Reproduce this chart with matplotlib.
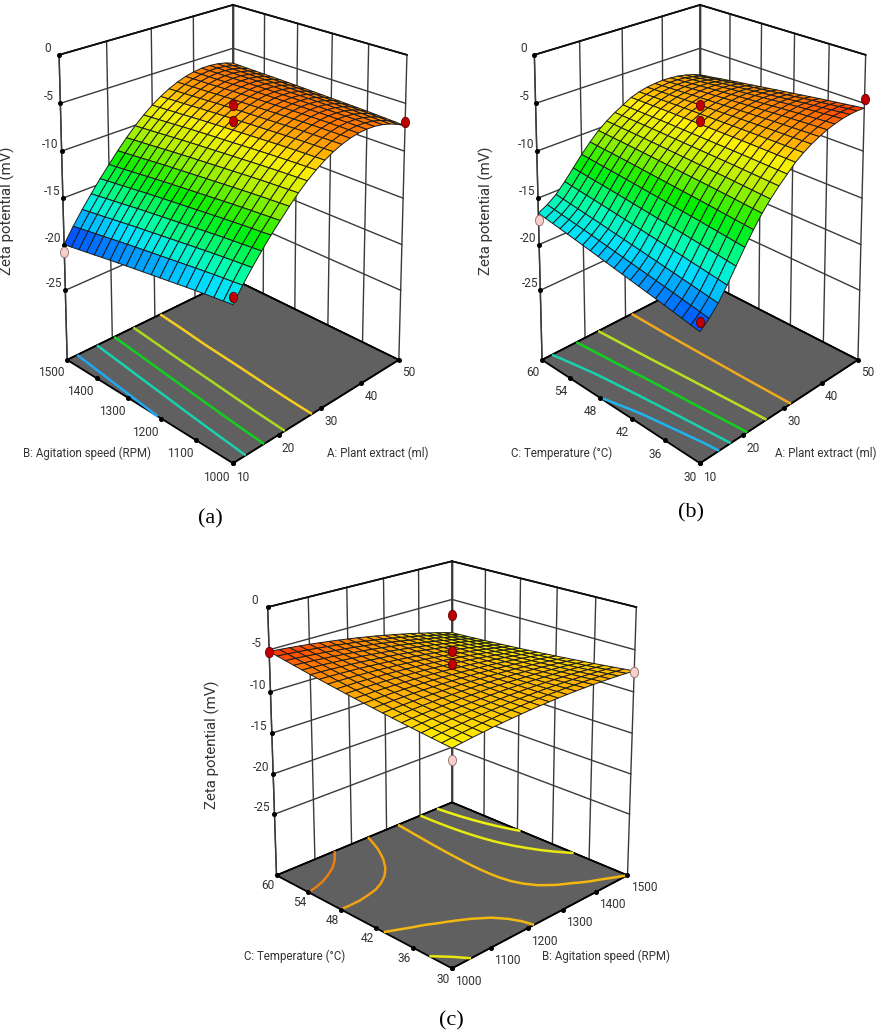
import numpy as np
import matplotlib
matplotlib.use("Agg")
import matplotlib.pyplot as plt
from matplotlib.colors import LinearSegmentedColormap, Normalize
from matplotlib.markers import MarkerStyle
from matplotlib.transforms import Affine2D

W, H = 886, 1034

# ---------- axis ticks ----------
A_ticks = [10, 20, 30, 40, 50]
B_ticks = [1000, 1100, 1200, 1300, 1400, 1500]
C_ticks = [30, 36, 42, 48, 54, 60]
Z_ticks = [0, -5, -10, -15, -20, -25]
Z_floor = -32.75

# ---------- panel (a): A x B ----------
a_along_A = [-17.2, -15.8, -14.55, -13.4, -12.3, -11.3, -10.32, -9.41, -8.61, -7.92, -7.33,
             -6.85, -6.48, -6.21, -6.05, -6.0, -6.05, -6.21, -6.48, -6.85, -7.33]
a_along_B = [0, -0.12, -0.24, -0.36, -0.49, -0.62, -0.76, -0.9, -1.04, -1.18, -1.32,
             -1.46, -1.6, -1.74, -1.89, -2.04, -2.2, -2.35, -2.5, -2.65, -2.8]
a_twist = 3.4
a_levels = [-18.3, -15.35, -13.0, -10.6, -8.0]
a_line_colors = ["#1fa8f0", "#19d0b0", "#12d020", "#a8d820", "#f5cc20"]
a_pts_x = [30, 30, 10, 50, 10]
a_pts_y = [1250, 1250, 1500, 1000, 1000]
a_pts_z = [-5.2, -6.8, -20.8, -6.9, -16.5]
a_pts_low = [False, False, True, False, False]

# ---------- panel (b): A x C ----------
b_along_A = [-19.8, -19.0, -18.0, -16.7, -15.3, -13.9, -12.6, -11.4, -10.4, -9.5, -8.7,
             -7.9, -7.3, -6.8, -6.4, -6.05, -5.8, -5.6, -5.5, -5.45, -5.5]
b_along_C = [0, 0.17, 0.34, 0.51, 0.68, 0.85, 1.01, 1.17, 1.33, 1.49, 1.65,
             1.81, 1.97, 2.13, 2.29, 2.45, 2.6, 2.75, 2.9, 3.05, 3.2]
b_twist = -5.8
b_levels = [-17.8, -16.0, -13.3, -10.6, -8.0]
b_line_colors = ["#1fb4f0", "#19d0b0", "#12d020", "#b8e020", "#f0a820"]
b_pts_x = [30, 30, 10, 50, 10]
b_pts_y = [45, 45, 60, 30, 30]
b_pts_z = [-5.2, -6.8, -17.3, -4.6, -18.9]
b_pts_low = [False, False, True, False, False]

# ---------- panel (c): B x C ----------
c_along_B = [-8.5, -8.34, -8.19, -8.06, -7.93, -7.82, -7.72, -7.63, -7.55, -7.48, -7.43,
             -7.38, -7.35, -7.33, -7.32, -7.32, -7.33, -7.36, -7.39, -7.44, -7.5]
c_along_C = [0, 0.127, 0.258, 0.393, 0.532, 0.675, 0.822, 0.973, 1.128, 1.287, 1.45,
             1.617, 1.788, 1.963, 2.142, 2.325, 2.512, 2.703, 2.898, 3.097, 3.3]
c_twist = -5.2
c_levels = [-8.8, -8.2, -7.5, -6.7, -6.0]
c_line_colors = ["#eef010", "#e8e810", "#f0b810", "#f0a010", "#e88010"]
c_pts_x = [1250, 1250, 1500, 1000, 1000, 1500]
c_pts_y = [45, 45, 60, 30, 60, 30]
c_pts_z = [-5.1, -6.7, -7.0, -9.8, -5.3, -7.6]
c_pts_low = [False, False, False, True, False, True]

# ---------- colours ----------
zmin_c, zmax_c = -21.0, -4.5
anchors = [(-21.0, "#0030ff"), (-20.0, "#0050ff"), (-18.6, "#00a0ff"), (-17.5, "#00e0ff"),
           (-16.0, "#00ffb0"), (-13.3, "#00ee00"), (-10.6, "#b4f000"), (-8.4, "#fff000"),
           (-7.4, "#ffb800"), (-6.6, "#ff9400"), (-6.0, "#ff7600"), (-5.5, "#ff4400"),
           (-5.0, "#ff2000"), (-4.5, "#e81000")]
cm = LinearSegmentedColormap.from_list(
    "dx", [((v - zmin_c) / (zmax_c - zmin_c), c) for v, c in anchors])
nm = Normalize(zmin_c, zmax_c)

plt.rcParams["font.family"] = ["Roboto", "DejaVu Sans"]
plt.rcParams["axes.unicode_minus"] = False
fig = plt.figure(figsize=(W / 100, H / 100), dpi=100)

VIEW_L, VIEW_W = 0.095, 0.185
TXT = "#333333"


def panel(cx, cy, sx, sy, elev, xt, yt, along_x, along_y, twist, levels, line_colors,
          px, py, pz, plow, xlabel, ylabel, xl_pos, yl_pos, pads):
    # pixel-scale placed rectangle; the box is stretched as in the reference
    left = cx - VIEW_L * sx
    bottom = cy + VIEW_L * sy
    w, h = VIEW_W * sx, VIEW_W * sy
    ax = fig.add_axes([left / W, 1 - bottom / H, w / W, h / H], projection="3d",
                      computed_zorder=False)
    ax.apply_aspect = lambda position=None: None
    ax.patch.set_alpha(0)
    ax.view_init(elev=elev, azim=-135)
    ax.set_proj_type("persp", focal_length=0.62)
    ax.set_box_aspect((1, 1, 0.885))

    x0, x1, y0, y1 = xt[0], xt[-1], yt[0], yt[-1]
    n = len(along_x)
    xs = np.linspace(x0, x1, n)
    ys = np.linspace(y0, y1, n)
    X, Y = np.meshgrid(xs, ys)
    Z = np.add.outer(np.array(along_y), np.array(along_x))
    Z = Z + twist * np.outer(np.arange(n) / (n - 1), np.arange(n) / (n - 1))

    ax.grid(False)
    for a in (ax.xaxis, ax.yaxis):
        a.set_pane_color((1, 1, 1, 1))
        a.pane.set_edgecolor((0, 0, 0, 0))
    ax.zaxis.set_pane_color("#606060")
    ax.zaxis.pane.set_edgecolor((0, 0, 0, 0))

    wall = dict(color="#3a3a3a", lw=1.0, zorder=1)
    for t in xt:
        ax.plot([t, t], [y1, y1], [Z_floor, 0], **wall)
    for t in yt:
        ax.plot([x1, x1], [t, t], [Z_floor, 0], **wall)
    for z in Z_ticks:
        ax.plot([x0, x1], [y1, y1], [z, z], **wall)
        ax.plot([x1, x1], [y0, y1], [z, z], **wall)
    ax.plot([x0, x0], [y1, y1], [Z_floor, 0], **wall)
    ax.plot([x0, x1], [y1, y1], [0, 0], color="#111111", lw=1.3, zorder=1)
    ax.plot([x1, x1], [y0, y1], [0, 0], color="#111111", lw=1.3, zorder=1)
    edge = dict(color="black", lw=1.3, zorder=2)
    ax.plot([x0, x1, x1, x0, x0], [y0, y0, y1, y1, y0], [Z_floor] * 5, **edge)

    ax.contour(X, Y, Z, levels=levels, zdir="z", offset=Z_floor, colors=line_colors,
               linewidths=1.8, zorder=3)

    ax.plot_surface(X, Y, Z, rstride=1, cstride=1, facecolors=cm(nm(Z)), shade=False,
                    edgecolor="#1c1c1c", linewidth=0.7, antialiased=True, zorder=4)

    dot = dict(ls="none", marker="o", ms=2.6, color="black", zorder=5)
    ax.plot(xt, [y0] * len(xt), [Z_floor] * len(xt), **dot)
    ax.plot([x0] * len(yt), yt, [Z_floor] * len(yt), **dot)
    ax.plot([x0] * len(Z_ticks), [y1] * len(Z_ticks), Z_ticks, **dot)

    tall = MarkerStyle("o", transform=Affine2D().scale(1, 1.3))
    for xp, yp, zp, low in zip(px, py, pz, plow):
        ax.plot([xp], [yp], [zp], ls="none", marker=tall, ms=5.8,
                mfc="#f8cfc8" if low else "#c00000",
                mec="#8a6a66" if low else "#5a0000", mew=0.6, zorder=6)

    ax.set_xlim(x0, x1, view_margin=0)
    ax.set_ylim(y0, y1, view_margin=0)
    ax.set_zlim(Z_floor, 0, view_margin=0)
    ax.set_xticks(xt)
    ax.set_yticks(yt)
    ax.set_zticks(Z_ticks)
    for name, a in (("x", ax.xaxis), ("y", ax.yaxis), ("z", ax.zaxis)):
        a.line.set_color((0, 0, 0, 0))
        ax.tick_params(axis=name, color=(0, 0, 0, 0), labelsize=8.6, labelcolor=TXT,
                       pad=pads[name])
        a.set_rotate_label(False)
    for t in ax.zaxis.get_majorticklabels():
        t.set_va("bottom")
    for t in ax.xaxis.get_majorticklabels():
        t.set_ha("left")
    for t in ax.yaxis.get_majorticklabels():
        t.set_ha("right")
    ax.set_zlabel("Zeta potential (mV)", rotation=90, fontsize=10.8, color=TXT,
                  labelpad=pads["zl"])
    ax.text2D(xl_pos[0] / W, 1 - xl_pos[1] / H, xlabel, transform=fig.transFigure,
              fontsize=8.3, color=TXT, ha="center", va="center")
    ax.text2D(yl_pos[0] / W, 1 - yl_pos[1] / H, ylabel, transform=fig.transFigure,
              fontsize=8.3, color=TXT, ha="center", va="center")
    return ax


panel(233, 211, 2102, 3153, 17, A_ticks, B_ticks, a_along_A, a_along_B, a_twist, a_levels,
      a_line_colors, a_pts_x, a_pts_y, a_pts_z, a_pts_low,
      "A: Plant extract (ml)", "B: Agitation speed (RPM)", (378, 453), (87, 453),
      dict(x=-5, y=-5, z=-2, zl=9))
panel(700, 211, 2002, 3153, 17, A_ticks, C_ticks, b_along_A, b_along_C, b_twist, b_levels,
      b_line_colors, b_pts_x, b_pts_y, b_pts_z, b_pts_low,
      "A: Plant extract (ml)", "C: Temperature (°C)", (826, 453), (562, 453),
      dict(x=-5, y=-5, z=-2, zl=8))
panel(452, 744.5, 2226, 2780, 17.5, B_ticks, C_ticks, c_along_B, c_along_C, c_twist, c_levels,
      c_line_colors, c_pts_x, c_pts_y, c_pts_z, c_pts_low,
      "B: Agitation speed (RPM)", "C: Temperature (°C)", (606, 956), (295, 956),
      dict(x=-5, y=-6, z=-2, zl=8))

for s, px_, py_ in (("(a)", 210, 519), ("(b)", 691, 513), ("(c)", 451, 1021)):
    fig.text(px_ / W, 1 - py_ / H, s, family="Liberation Serif", fontsize=16,
             color="black", ha="center", va="center")

fig.savefig("out.png", dpi=100)
